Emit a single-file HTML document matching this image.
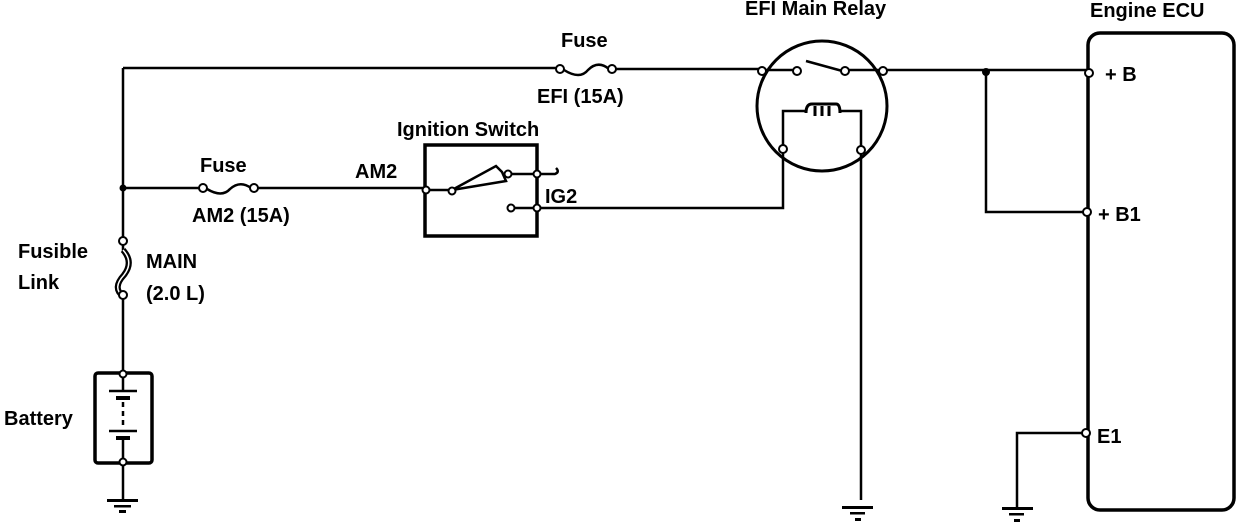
<!DOCTYPE html>
<html><head><meta charset="utf-8"><style>
html,body{margin:0;padding:0;background:#fff;}
svg{display:block;}
text{font-family:"Liberation Sans",Arial,sans-serif;font-size:20px;font-weight:bold;fill:#000;}
</style></head><body>
<svg width="1248" height="524" viewBox="0 0 1248 524" xmlns="http://www.w3.org/2000/svg">
<g fill="none" stroke="#000" stroke-width="2.5">
<path d="M123 68 H557"/>
<path d="M564 70 Q580 80 588 70 Q598 60 609 69"/>
<path d="M613 69 H760"/>
<path d="M123 68 V240"/>
<path d="M123 188 H200"/>
<path d="M207 189 Q222 198 230 189 Q240 180 251 188"/>
<path d="M255 188 H425"/>
<rect x="425" y="145" width="112" height="91" stroke-width="3.5"/>
<path d="M428 190 H452"/>
<path d="M452 190 L496 166 L502 172 L506 181 Z" stroke-width="2.5"/>
<path d="M508 174 H537 H555 Q560 172 556 168"/>
<path d="M511 208 H783 V150"/>
<circle cx="822" cy="106" r="65" stroke-width="3"/>
<path d="M764 70 H797"/>
<path d="M806 61 L846 72"/>
<path d="M848 70 H1088"/>
<path d="M783 150 V111 H805 M840 111 H861 V500"/>
<path d="M806 113 Q806 104 812 104 H836 Q840 104 840 113" stroke-width="3"/>
<path d="M815 106 V116 M822 106 V116 M829 106 V116" stroke-width="3"/>
<path d="M986 72 V212 H1088"/>
<path d="M1088 433 H1017 V507"/>
<rect x="1088" y="33" width="146" height="477" rx="12" stroke-width="3.5"/>
<path d="M123 244 V252"/>
<path d="M123 250 Q134 262 124 275 Q112 288 123 296" stroke-width="6"/>
<path d="M123 250 Q134 262 124 275 Q112 288 123 296" stroke="#fff" stroke-width="1.5"/>
<path d="M123 298 V373"/>
<rect x="95" y="373" width="57" height="90" rx="3" stroke-width="3.5"/>
<path d="M109 391 H137 M109 431 H137" stroke-width="2.5"/>
<path d="M116 398 H130 M116 438 H130" stroke-width="4"/>
<path d="M123 402 V428" stroke-dasharray="5,4"/>
<path d="M123 377 V391 M123 438 V460"/>
<path d="M123 463 V500"/>
</g>
<g fill="#000">
<rect x="107" y="499" width="31" height="3"/><rect x="114" y="505" width="17" height="2.5"/><rect x="119" y="510" width="7" height="3"/>
<rect x="842" y="506" width="31" height="3"/><rect x="850" y="512" width="15" height="2.5"/><rect x="855" y="518" width="6" height="3"/>
<rect x="1002" y="507" width="31" height="3"/><rect x="1009" y="513" width="15" height="2.5"/><rect x="1014" y="519" width="6" height="3"/>
<circle cx="123" cy="188" r="3.5"/><circle cx="986" cy="72" r="4"/>
</g>
<g fill="#fff" stroke="#000" stroke-width="2">
<circle cx="560" cy="69" r="4"/><circle cx="612" cy="69" r="4"/>
<circle cx="203" cy="188" r="4"/><circle cx="254" cy="188" r="4"/>
<circle cx="426" cy="190" r="3.5"/><circle cx="452" cy="191" r="3.5"/><circle cx="508" cy="174" r="3.5"/><circle cx="537" cy="174" r="3.5"/><circle cx="511" cy="208" r="3.5"/><circle cx="537" cy="208" r="3.5"/>
<circle cx="762" cy="71" r="4"/><circle cx="797" cy="71" r="4"/><circle cx="845" cy="71" r="4"/><circle cx="883" cy="71" r="4"/>
<circle cx="783" cy="149" r="4"/><circle cx="861" cy="150" r="4"/>
<circle cx="1089" cy="73" r="4"/><circle cx="1087" cy="212" r="4"/><circle cx="1086" cy="433" r="4"/>
<circle cx="123" cy="241" r="4"/><circle cx="123" cy="295" r="4"/>
<circle cx="123" cy="374" r="3.5"/><circle cx="123" cy="462" r="3.5"/>
</g>
<text x="561" y="47">Fuse</text>
<text x="537" y="103">EFI (15A)</text>
<text x="745" y="15">EFI Main Relay</text>
<text x="1090" y="17">Engine ECU</text>
<text x="397" y="136">Ignition Switch</text>
<text x="355" y="178">AM2</text>
<text x="545" y="203">IG2</text>
<text x="200" y="172">Fuse</text>
<text x="192" y="222">AM2 (15A)</text>
<text x="18" y="258">Fusible</text>
<text x="18" y="289">Link</text>
<text x="146" y="268">MAIN</text>
<text x="146" y="300">(2.0 L)</text>
<text x="4" y="425">Battery</text>
<text x="1105" y="81">+ B</text>
<text x="1098" y="221">+ B1</text>
<text x="1097" y="443">E1</text>
</svg>
</body></html>
